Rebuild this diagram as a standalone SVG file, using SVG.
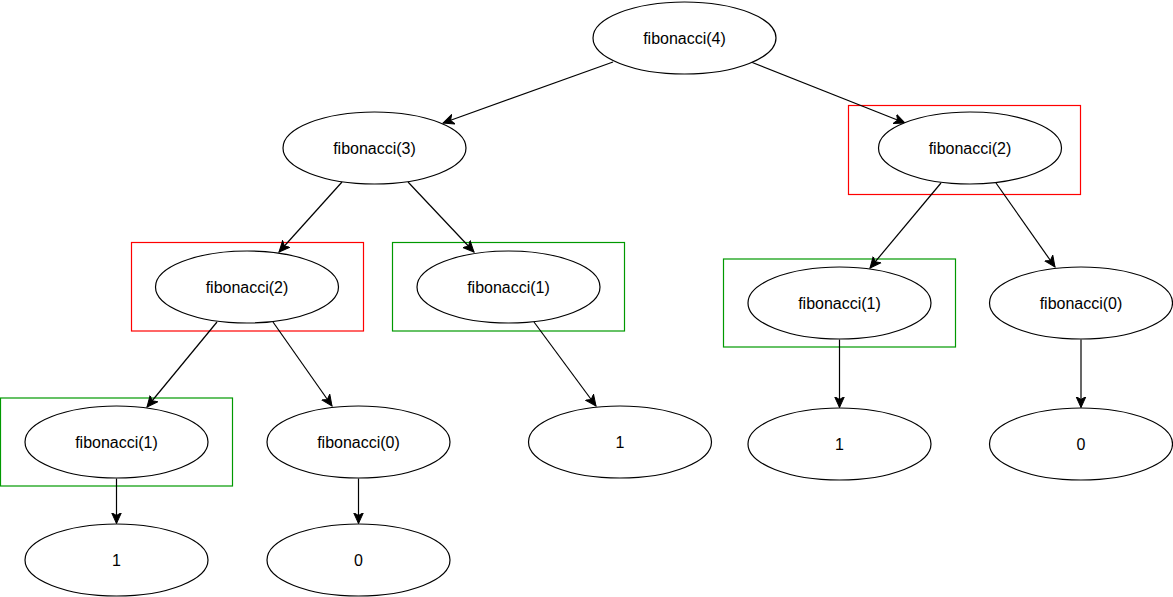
<svg xmlns="http://www.w3.org/2000/svg" width="1173" height="597" viewBox="0 0 1173 597">
<style>
.n ellipse{fill:#fff;stroke:#000;stroke-width:1.2}
.n text{font-family:"Liberation Sans",Arial,sans-serif;font-size:16px;fill:#000;text-anchor:middle;dominant-baseline:central}
.red{fill:none;stroke:#ff0000;stroke-width:1.2}
.green{fill:none;stroke:#009900;stroke-width:1.2}
.e line{stroke:#000;stroke-width:1.2;marker-end:url(#arr)}
</style>
<defs>
<marker id="arr" markerUnits="userSpaceOnUse" markerWidth="12" markerHeight="12" viewBox="0 0 12 10" refX="11" refY="5" orient="auto">
<path d="M0,0 L11,5 L0,10 L3,5 z" fill="#000" stroke="#000" stroke-width="1"/>
</marker>
</defs>
<rect width="1173" height="597" fill="#fff"/>
<g id="highlights">
<rect class="red" x="848.5" y="105.5" width="232" height="89"/>
<rect class="red" x="131.5" y="242.5" width="232" height="88.5"/>
<rect class="green" x="392.5" y="242.5" width="232" height="88.5"/>
<rect class="green" x="723.5" y="259" width="232" height="88"/>
<rect class="green" x="0.5" y="398" width="232" height="88"/>
</g>
<g class="e" id="connectors">
<line x1="613" y1="62" x2="443" y2="123"/>
<line x1="751" y1="62" x2="905" y2="123"/>
<line x1="342" y1="182" x2="279" y2="252"/>
<line x1="408" y1="182" x2="474" y2="252"/>
<line x1="941" y1="183" x2="870" y2="268"/>
<line x1="996" y1="183" x2="1055" y2="267"/>
<line x1="217" y1="322" x2="147" y2="407"/>
<line x1="273" y1="322" x2="332" y2="406"/>
<line x1="534" y1="322" x2="596" y2="406"/>
<line x1="839.5" y1="339.5" x2="839.5" y2="407.5"/>
<line x1="1081" y1="339.5" x2="1081" y2="407.5"/>
<line x1="116.5" y1="478.5" x2="116.5" y2="523.5"/>
<line x1="358.5" y1="478.5" x2="358.5" y2="523.5"/>
</g>
<g class="n" id="fib4"><ellipse cx="684.5" cy="38" rx="91.5" ry="36"/><text x="684.5" y="38">fibonacci(4)</text></g>
<g class="n" id="fib3"><ellipse cx="374.5" cy="148" rx="91.5" ry="36"/><text x="374.5" y="148">fibonacci(3)</text></g>
<g class="n" id="fib2r"><ellipse cx="970" cy="148" rx="91.5" ry="36"/><text x="970" y="148">fibonacci(2)</text></g>
<g class="n" id="fib2l"><ellipse cx="247" cy="287" rx="91.5" ry="36"/><text x="247" y="287">fibonacci(2)</text></g>
<g class="n" id="fib1m"><ellipse cx="508.5" cy="287" rx="91.5" ry="36"/><text x="508.5" y="287">fibonacci(1)</text></g>
<g class="n" id="fib1r"><ellipse cx="839.5" cy="303" rx="91.5" ry="36"/><text x="839.5" y="303">fibonacci(1)</text></g>
<g class="n" id="fib0r"><ellipse cx="1081" cy="303" rx="91.5" ry="36"/><text x="1081" y="303">fibonacci(0)</text></g>
<g class="n" id="fib1bl"><ellipse cx="116.5" cy="442" rx="91.5" ry="36"/><text x="116.5" y="442">fibonacci(1)</text></g>
<g class="n" id="fib0l"><ellipse cx="358.5" cy="442" rx="91.5" ry="36"/><text x="358.5" y="442">fibonacci(0)</text></g>
<g class="n" id="v1m"><ellipse cx="620" cy="442" rx="91.5" ry="36"/><text x="620" y="442">1</text></g>
<g class="n" id="v1r"><ellipse cx="839.5" cy="444" rx="91.5" ry="36"/><text x="839.5" y="444">1</text></g>
<g class="n" id="v0r"><ellipse cx="1081" cy="444" rx="91.5" ry="36"/><text x="1081" y="444">0</text></g>
<g class="n" id="v1bl"><ellipse cx="116.5" cy="560" rx="91.5" ry="36"/><text x="116.5" y="560">1</text></g>
<g class="n" id="v0bl"><ellipse cx="358.5" cy="560" rx="91.5" ry="36"/><text x="358.5" y="560">0</text></g>
</svg>
